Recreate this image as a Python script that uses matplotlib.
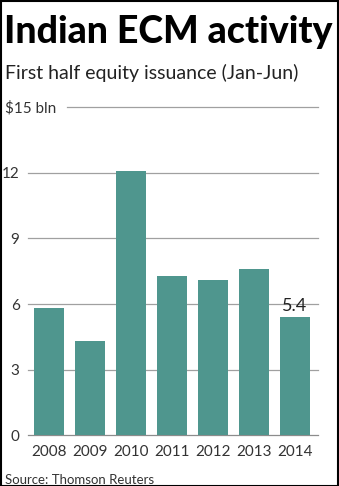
import matplotlib
matplotlib.use("Agg")
import matplotlib.pyplot as plt
from matplotlib.patches import Rectangle

years = ['2008', '2009', '2010', '2011', '2012', '2013', '2014']
issuance = [5.8, 4.3, 12.1, 7.3, 7.1, 7.6, 5.4]
yticks = [0, 3, 6, 9, 12, 15]
ytick_labels = ['0', '3', '6', '9', '12', '$15 bln']

plt.rcParams['font.family'] = ['Lato', 'DejaVu Sans']

W, H = 339, 486
fig = plt.figure(figsize=(W / 100, H / 100), dpi=100)


def px(x, y):
    # pixel (from top-left) -> figure fraction
    return x / W, 1 - y / H


# axes placed in pixel coords
x0, x1 = 28, 318
y0, y1 = 435.5, 107
ax = fig.add_axes([x0 / W, 1 - y0 / H, (x1 - x0) / W, (y0 - y1) / H])

bar_color = '#4f968e'
xs = list(range(len(years)))
ax.bar(xs, issuance, width=0.73, color=bar_color, zorder=3)
ax.set_xlim(-0.512, 6.56)
ax.set_ylim(0, 15)

for s in ax.spines.values():
    s.set_visible(False)
ax.set_xticks([])
ax.set_yticks([])

# gridlines
for v in yticks:
    xmin = (67 - x0) / (x1 - x0) if v == 15 else 0
    ax.axhline(v, xmin=xmin, xmax=1, color='#a0a0a0' if v else '#8c8c8c',
               lw=0.9, zorder=1, clip_on=False)

# y labels
for v, lab in zip(yticks, ytick_labels):
    if v == 15:
        ax.annotate(lab, xy=(5 / W, v), xycoords=('figure fraction', 'data'),
                    fontsize=11, color='#333333', ha='left', va='center_baseline',
                    annotation_clip=False)
    else:
        ax.annotate(lab, xy=(19.5 / W, v), xycoords=('figure fraction', 'data'),
                    fontsize=11, color='#333333', ha='right', va='center_baseline',
                    annotation_clip=False)

# x labels
for x, y in zip(xs, years):
    ax.annotate(y, xy=(x, px(0, 456)[1]), xycoords=('data', 'figure fraction'),
                ha='center', va='baseline', fontsize=11, color='#333333',
                annotation_clip=False)

# value label on last bar
ax.text(xs[-1], 6, '5.4', ha='center', va='center_baseline',
        fontsize=13, color='#222222', zorder=4)

fig.text(*px(4, 43), 'Indian ECM activity', fontsize=27, fontweight='black',
         ha='left', va='baseline', color='black')
fig.text(*px(5, 79), 'First half equity issuance (Jan-Jun)', fontsize=14,
         ha='left', va='baseline', color='#222222')
fig.text(*px(5, 484), 'Source: Thomson Reuters', fontsize=9.5,
         ha='left', va='baseline', color='#333333')

fig.add_artist(Rectangle((0.5 / W, 0.5 / H), 1 - 1.5 / W, 1 - 1.5 / H,
                         transform=fig.transFigure, fill=False,
                         edgecolor='black', lw=1.5))

fig.savefig('out.png', dpi=100)
